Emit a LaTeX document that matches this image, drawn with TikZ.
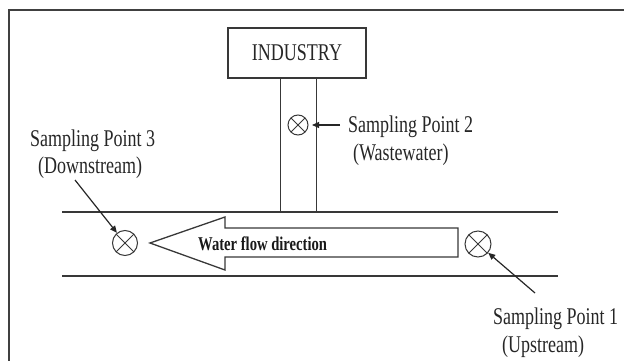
\documentclass[tikz,border=0pt]{standalone}
\usepackage{fontspec}
\setmainfont{Liberation Serif}
\usetikzlibrary{arrows.meta}
\newcommand{\sqz}[1]{\scalebox{0.75}[1]{#1}}
\tikzset{
  ln/.style={draw=black!78, line width=1.3pt},
  lbl/.style={anchor=base west, inner sep=0pt, font=\fontsize{24}{28}\selectfont, text=black!85},
  sample/.style={circle, ln, line width=1pt, inner sep=0pt,
    path picture={\draw[black!78, line width=1pt]
      (path picture bounding box.north west) -- (path picture bounding box.south east)
      (path picture bounding box.north east) -- (path picture bounding box.south west);}},
  pointer/.style={draw=black!85, line width=1.2pt, -{Triangle[length=7pt,width=6pt]}}
}
\begin{document}
\begin{tikzpicture}[x=1pt,y=-1pt]
\useasboundingbox (0,0) rectangle (624,361);
% outer frame
\draw[draw=black!75, line width=2pt] (630,10.5) -- (9,10.5) -- (9,370);
% industry box
\node[ln, minimum width=138pt, minimum height=50pt, inner sep=0pt,
      font=\fontsize{24}{28}\selectfont, text=black!85] (ind) at (297,53) {\sqz{INDUSTRY}};
% effluent pipe
\draw[ln] (280.5,78) -- (280.5,212);
\draw[ln] (316.5,78) -- (316.5,212);
% river banks
\draw[ln] (62,212) -- (558,212);
\draw[ln] (62,276) -- (558,276);
% flow arrow
\draw[ln, line width=1.3pt, line join=miter] (150,243) -- (225,217) -- (225,228) -- (458,228)
   -- (458,257) -- (225,257) -- (225,270) -- cycle;
\node[anchor=base west, inner sep=0pt, font=\bfseries\fontsize{19.5}{22}\selectfont, text=black!90]
   (flow) at (198,250) {\sqz{Water flow direction}};
% sampling points
\node[sample, minimum size=20pt] (sp2) at (298,125) {};
\node[sample, minimum size=25pt] (sp3) at (125,243) {};
\node[sample, minimum size=26pt] (sp1) at (478,244) {};
% labels
\node[lbl] (l2a) at (348,132) {\sqz{Sampling Point 2}};
\node[lbl] (l2b) at (353,160) {\sqz{(Wastewater)}};
\node[lbl] (l3a) at (30,146) {\sqz{Sampling Point 3}};
\node[lbl] (l3b) at (38,173) {\sqz{(Downstream)}};
\node[lbl] (l1a) at (493,324) {\sqz{Sampling Point 1}};
\node[lbl] (l1b) at (502,352) {\sqz{(Upstream)}};
% pointers
\coordinate (p2) at (340,125);
\coordinate (p3) at (75,180);
\coordinate (p1) at (535,293);
\draw[pointer, shorten >=3.5pt] (p2) -- (sp2);
\draw[pointer] (p3) -- (sp3);
\draw[pointer] (p1) -- (sp1);
\end{tikzpicture}
\end{document}
